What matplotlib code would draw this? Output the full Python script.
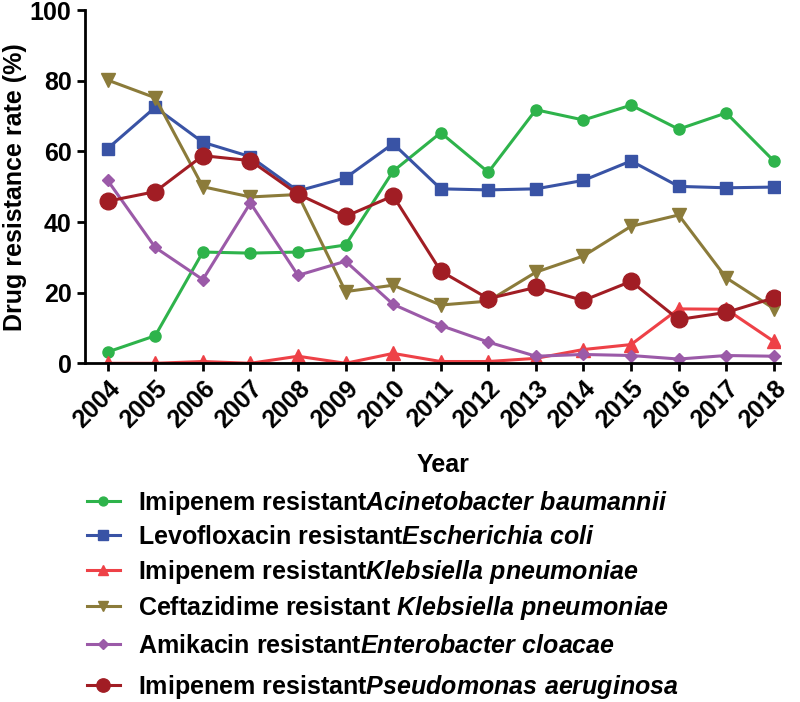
import matplotlib
matplotlib.use('Agg')
import matplotlib.pyplot as plt

years = list(range(2004, 2019))

acinetobacter = [3.2, 7.8, 31.5, 31.2, 31.5, 33.5, 54.4, 65.3, 54.1, 71.8, 68.9, 73.1, 66.3, 70.9, 57.3]
ecoli = [60.8, 72.5, 62.6, 58.5, 48.8, 52.5, 62.2, 49.4, 49.1, 49.4, 51.8, 57.3, 50.1, 49.7, 49.9]
kpn_imipenem = [0.0, 0.0, 0.5, 0.0, 2.0, 0.0, 2.8, 0.5, 0.5, 1.4, 3.9, 5.3, 15.4, 15.3, 6.2]
kpn_ceftazidime = [80.2, 75.2, 50.0, 47.1, 47.8, 20.3, 22.1, 16.5, 17.6, 25.8, 30.4, 38.8, 42.0, 24.2, 15.5]
enterobacter = [51.8, 32.8, 23.7, 45.4, 24.9, 28.9, 16.7, 10.7, 6.0, 2.0, 2.5, 2.2, 1.2, 2.2, 2.0]
pseudomonas = [45.9, 48.6, 58.8, 57.4, 47.9, 41.6, 47.4, 26.1, 18.3, 21.5, 17.8, 23.2, 12.4, 14.4, 18.5]

labels = [
    r'Imipenem resistant$\mathit{Acinetobacter\ baumannii}$',
    r'Levofloxacin resistant$\mathit{Escherichia\ coli}$',
    r'Imipenem resistant$\mathit{Klebsiella\ pneumoniae}$',
    r'Ceftazidime resistant $\mathit{Klebsiella\ pneumoniae}$',
    r'Amikacin resistant$\mathit{Enterobacter\ cloacae}$',
    r'Imipenem resistant$\mathit{Pseudomonas\ aeruginosa}$',
]

plt.rcParams['font.family'] = 'Liberation Sans'
plt.rcParams['font.weight'] = 'bold'
plt.rcParams['mathtext.fontset'] = 'custom'
plt.rcParams['mathtext.it'] = 'Liberation Sans:italic:bold'
plt.rcParams['mathtext.rm'] = 'Liberation Sans:bold'

fig = plt.figure(figsize=(8, 7.02), dpi=100)
ax = fig.add_axes([0.106, 0.4825, 0.869, 0.503])

ax.plot(years, acinetobacter, color='#2eb34b', lw=2.2, marker='o', ms=8, label=labels[0])
ax.plot(years, ecoli, color='#3953a5', lw=2.2, marker='s', ms=9, label=labels[1])
ax.plot(years, kpn_imipenem, color='#ee4147', lw=2.2, marker='^', ms=9.5, label=labels[2])
ax.plot(years, kpn_ceftazidime, color='#8b7b3a', lw=2.2, marker='v', ms=9.5, label=labels[3])
ax.plot(years, enterobacter, color='#9b5aa8', lw=2.2, marker='D', ms=6.5, label=labels[4])
ax.plot(years, pseudomonas, color='#a11d24', lw=2.2, marker='o', ms=12, label=labels[5])

ax.set_xlim(2003.52, 2018.13)
ax.set_ylim(0, 100)
ax.set_yticks([0, 20, 40, 60, 80, 100])
ax.set_xticks(years)
ax.set_xticklabels([str(y) for y in years], rotation=45, ha='right', rotation_mode='anchor')
ax.tick_params(axis='both', labelsize=18, width=2, length=6, direction='out')
for lbl in ax.get_xticklabels() + ax.get_yticklabels():
    lbl.set_fontweight('bold')

for s in ['top', 'right']:
    ax.spines[s].set_visible(False)
for s in ['left', 'bottom']:
    ax.spines[s].set_linewidth(2)

ax.set_ylabel('Drug resistance rate (%)', fontsize=18, fontweight='bold')
ax.set_xlabel('Year', fontsize=18, fontweight='bold')
ax.xaxis.set_label_coords(0.515, -0.254)
ax.yaxis.set_label_coords(-0.083, 0.5)

handles, labs = ax.get_legend_handles_labels()
leg_style = dict(loc='upper left', frameon=False, fontsize=18, handlelength=1.3,
                 handletextpad=0.72, borderpad=0, borderaxespad=0, markerscale=0.8)
leg1 = fig.legend(handles[:4], labs[:4], bbox_to_anchor=(0.109, 0.304), labelspacing=0.34, **leg_style)
leg2 = fig.legend(handles[4:], labs[4:], bbox_to_anchor=(0.109, 0.097), labelspacing=0.6, **leg_style)

fig.savefig('out.png', dpi=100)
